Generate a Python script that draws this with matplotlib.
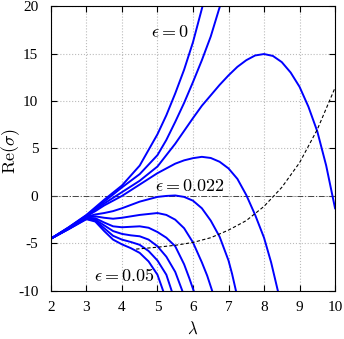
import numpy as np
import matplotlib.pyplot as plt

plt.rcParams['font.family'] = 'Liberation Serif'
plt.rcParams['mathtext.fontset'] = 'cm'

# ==========================
# Data
# ==========================

eps_values = [0, 0.0056, 0.0111, 0.0167, 0.0222, 0.0278, 0.0333, 0.0389, 0.0444, 0.05]

lam_A = [2, 2.5, 3.0, 3.25, 3.5, 3.75, 4.0, 4.5, 5.0, 5.25, 5.5, 5.75, 6.0, 6.27]
sig_A = [-4.5, -3.3, -2.0, -1.2, -0.4, 0.35, 1.1, 3.2, 6.5, 8.5, 10.8, 13.3, 16.2, 20]

lam_B = [2, 2.5, 3.0, 3.25, 3.5, 3.75, 4.0, 4.5, 5.0, 5.25, 5.5, 5.75, 6.0, 6.25, 6.5, 6.76]
sig_B = [-4.5, -3.32, -2.05, -1.3, -0.6, 0.15, 0.9, 2.3, 4.3, 5.9, 7.8, 9.8, 12.0, 14.3, 16.8, 20]

lam_C = [2, 2.5, 3.0, 3.25, 3.5, 3.75, 4.0, 4.5, 5.0, 5.5, 6.0, 6.25, 6.5, 6.75, 7.0,
         7.25, 7.5, 7.75, 8.0, 8.25, 8.5, 8.75, 9.0, 9.25, 9.5, 9.75, 10]
sig_C = [-4.5, -3.35, -2.1, -1.45, -0.8, -0.2, 0.4, 1.6, 3.1, 5.5, 8.2, 9.5, 10.6, 11.7, 12.7,
         13.6, 14.3, 14.8, 14.95, 14.75, 14.1, 13.0, 11.5, 9.4, 6.8, 3.2, -1.3]

lam_D = [2, 2.5, 3.0, 3.25, 3.5, 3.75, 4.0, 4.5, 5.0, 5.5, 5.75, 6.0, 6.25, 6.5, 6.75,
         7.0, 7.25, 7.5, 7.75, 8.0, 8.2, 8.39]
sig_D = [-4.5, -3.37, -2.15, -1.6, -1.0, -0.5, 0.0, 1.2, 2.4, 3.4, 3.75, 3.98, 4.12, 4.0, 3.6,
         2.9, 1.8, 0.1, -2.0, -4.4, -7.0, -10]

lam_E = [2, 2.5, 3.0, 3.25, 3.5, 3.75, 4.0, 4.5, 5.0, 5.25, 5.5, 5.75, 6.0, 6.25, 6.5,
         6.75, 7.0, 7.1, 7.21]
sig_E = [-4.5, -3.4, -2.2, -1.95, -1.8, -1.6, -1.3, -0.6, -0.1, 0.0, 0.05, -0.1, -0.5, -1.3, -2.6,
         -4.3, -6.8, -8.2, -10]

lam_F = [2, 2.5, 3.0, 3.25, 3.5, 3.75, 4.0, 4.5, 5.0, 5.25, 5.5, 5.75, 6.0, 6.25, 6.4, 6.54]
sig_F = [-4.5, -3.42, -2.25, -2.15, -2.3, -2.4, -2.3, -2.0, -1.8, -2.0, -2.5, -3.4, -4.9, -7.0, -8.4, -10]

lam_G = [2, 2.5, 3.0, 3.25, 3.5, 3.75, 4.0, 4.25, 4.5, 4.75, 5.0, 5.25, 5.5, 5.75, 5.9, 6.02]
sig_G = [-4.5, -3.44, -2.3, -2.35, -2.8, -3.2, -3.3, -3.25, -3.2, -3.35, -3.8, -4.4, -5.3, -7.2, -8.7, -10]

lam_H = [2, 2.5, 3.0, 3.25, 3.5, 3.75, 4.0, 4.25, 4.5, 4.75, 5.0, 5.25, 5.5, 5.6, 5.7]
sig_H = [-4.5, -3.46, -2.35, -2.5, -3.1, -3.7, -4.0, -4.15, -4.25, -4.6, -5.3, -6.4, -8.0, -9.0, -10]

lam_I = [2, 2.5, 3.0, 3.25, 3.5, 3.75, 4.0, 4.25, 4.5, 4.75, 5.0, 5.25, 5.4]
sig_I = [-4.5, -3.48, -2.4, -2.6, -3.4, -4.2, -4.6, -4.85, -5.15, -5.8, -6.8, -8.3, -10]

lam_J = [2, 2.5, 3.0, 3.25, 3.5, 3.75, 4.0, 4.25, 4.5, 4.75, 5.0, 5.16]
sig_J = [-4.5, -3.5, -2.45, -2.7, -3.7, -4.6, -5.1, -5.5, -6.0, -6.9, -8.3, -10]

lam_dash = [4.4, 5.0, 5.5, 6.0, 6.5, 7.0, 7.5, 8.0, 8.5, 9.0, 9.5, 10]
sig_dash = [-5.6, -5.4, -5.2, -4.9, -4.4, -3.6, -2.6, -1.1, 0.9, 3.5, 7.0, 11.4]

curves = [(lam_A, sig_A), (lam_B, sig_B), (lam_C, sig_C), (lam_D, sig_D),
          (lam_E, sig_E), (lam_F, sig_F), (lam_G, sig_G), (lam_H, sig_H),
          (lam_I, sig_I), (lam_J, sig_J)]

y_ticks = [-10, -5, 0, 5, 10, 15, 20]

# ==========================
# Plot
# ==========================

fig = plt.figure(figsize=(3.44, 3.39), dpi=100)
ax = fig.add_axes([0.148, 0.142, 0.826, 0.840])

ax.axhline(0, color='#444444', lw=0.7, ls=(0, (6, 2, 1, 2)))

for lam, sig in curves:
    ax.plot(lam, sig, color='#0000ff', lw=1.4, solid_joinstyle='round')

ax.plot(lam_dash, sig_dash, color='black', lw=0.8, ls=(0, (3, 2)))

ax.set_xlim(2, 10)
ax.set_ylim(-10, 20)
ax.set_xticks(range(2, 11))
ax.set_yticks(y_ticks)
ax.set_yticklabels([str(v) for v in y_ticks])

ax.grid(True, color='#bbbbbb', ls=':', lw=0.8)
ax.tick_params(direction='in', top=True, right=True, length=4, labelsize=11)
ax.tick_params(axis='y', pad=9)
ax.tick_params(axis='x', pad=7)

ax.set_xlabel(r'$\lambda$', fontsize=12)
ax.set_ylabel(r'$\mathrm{Re}(\sigma)$', fontsize=13)
ax.xaxis.set_label_coords(0.5, -0.108)
ax.yaxis.set_label_coords(-0.10, 0.49)

ax.text(5.35, 17.2, r'$\epsilon = 0$', fontsize=13, ha='center', va='center')
ax.text(5.92, 1.0, r'$\epsilon = 0.022$', fontsize=13, ha='center', va='center')
ax.text(4.08, -8.5, r'$\epsilon = 0.05$', fontsize=13, ha='center', va='center')

plt.savefig('out.png', dpi=100)
